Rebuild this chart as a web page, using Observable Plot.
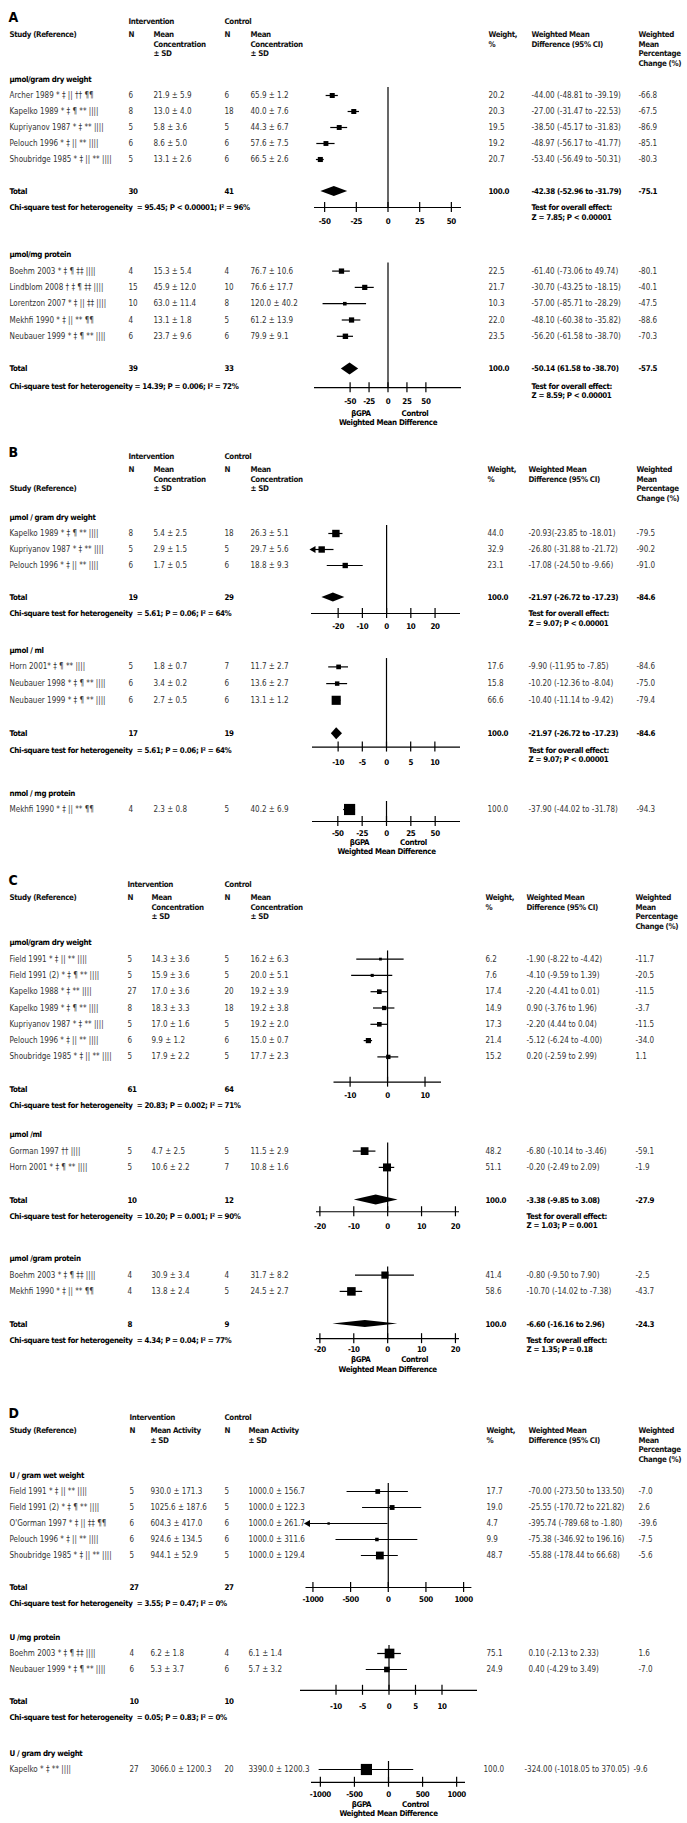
<!DOCTYPE html>
<html>
<head>
<meta charset="utf-8">
<script src="https://cdn.jsdelivr.net/npm/d3@7"></script>
<script src="https://cdn.jsdelivr.net/npm/@observablehq/plot@0.6"></script>
<style>
  body { margin: 0; background: #fff; }
  #chart { position: relative; width: 687px; height: 1823px; overflow: hidden; }
  #chart svg { position: absolute; left: 0; }
  #chart svg g[font-weight="bold"] text { letter-spacing: -0.35px; }
</style>
</head>
<body>
<div id="chart"></div>
<script>
// ---------------- DATA ----------------
// row: [study, N int, mean±SD int, N ctl, mean±SD ctl, weight, WMD, CI low, CI high, CI text, % change]
const A1_label = "μmol/gram dry weight";
const A1_rows = [
  ["Archer 1989 * ‡ || †† ¶¶", 6, "21.9 ± 5.9", 6, "65.9 ± 1.2", 20.2, -44.00, -48.81, -39.19, "-44.00 (-48.81 to -39.19)", "-66.8"],
  ["Kapelko 1989 * ‡ ¶ ** ||||", 8, "13.0 ± 4.0", 18, "40.0 ± 7.6", 20.3, -27.00, -31.47, -22.53, "-27.00 (-31.47 to -22.53)", "-67.5"],
  ["Kupriyanov 1987 * ‡ ** ||||", 5, "5.8 ± 3.6", 5, "44.3 ± 6.7", 19.5, -38.50, -45.17, -31.83, "-38.50 (-45.17 to -31.83)", "-86.9"],
  ["Pelouch 1996 * ‡ || ** ||||", 6, "8.6 ± 5.0", 6, "57.6 ± 7.5", 19.2, -48.97, -56.17, -41.77, "-48.97 (-56.17 to -41.77)", "-85.1"],
  ["Shoubridge 1985 * ‡ || ** ||||", 5, "13.1 ± 2.6", 6, "66.5 ± 2.6", 20.7, -53.40, -56.49, -50.31, "-53.40 (-56.49 to -50.31)", "-80.3"]
];
const A1_total = [30, 41, "100.0", -42.38, -52.96, -31.79, "-42.38 (-52.96 to -31.79)", "-75.1"];
const A1_chi = "Chi-square test for heterogeneity  = 95.45; P < 0.00001; I² = 96%";
const A1_z = "Z = 7.85; P < 0.00001";

const A2_label = "μmol/mg protein";
const A2_rows = [
  ["Boehm 2003 * ‡ ¶ ‡‡ ||||", 4, "15.3 ± 5.4", 4, "76.7 ± 10.6", 22.5, -61.40, -73.06, -49.74, "-61.40 (-73.06 to 49.74)", "-80.1"],
  ["Lindblom 2008 † ‡ ¶ ‡‡ ||||", 15, "45.9 ± 12.0", 10, "76.6 ± 17.7", 21.7, -30.70, -43.25, -18.15, "-30.70 (-43.25 to -18.15)", "-40.1"],
  ["Lorentzon 2007 * ‡ || ‡‡ ||||", 10, "63.0 ± 11.4", 8, "120.0 ± 40.2", 10.3, -57.00, -85.71, -28.29, "-57.00 (-85.71 to -28.29)", "-47.5"],
  ["Mekhfi 1990 * ‡ || ** ¶¶", 4, "13.1 ± 1.8", 5, "61.2 ± 13.9", 22.0, -48.10, -60.38, -35.82, "-48.10 (-60.38 to -35.82)", "-88.6"],
  ["Neubauer 1999 * ‡ ¶ ** ||||", 6, "23.7 ± 9.6", 6, "79.9 ± 9.1", 23.5, -56.20, -66.90, -45.50, "-56.20 (-61.58 to -38.70)", "-70.3"]
];
const A2_total = [39, 33, "100.0", -50.14, -61.58, -38.70, "-50.14 (61.58 to -38.70)", "-57.5"];
const A2_chi = "Chi-square test for heterogeneity = 14.39; P = 0.006; I² = 72%";
const A2_z = "Z = 8.59; P < 0.00001";

const B1_label = "μmol / gram dry weight";
const B1_rows = [
  ["Kapelko 1989 * ‡ ¶ ** ||||", 8, "5.4 ± 2.5", 18, "26.3 ± 5.1", 44.0, -20.93, -23.85, -18.01, "-20.93(-23.85 to -18.01)", "-79.5"],
  ["Kupriyanov 1987 * ‡ ** ||||", 5, "2.9 ± 1.5", 5, "29.7 ± 5.6", 32.9, -26.80, -31.88, -21.72, "-26.80 (-31.88 to -21.72)", "-90.2"],
  ["Pelouch 1996 * ‡ || ** ||||", 6, "1.7 ± 0.5", 6, "18.8 ± 9.3", 23.1, -17.08, -24.50, -9.66, "-17.08 (-24.50 to -9.66)", "-91.0"]
];
const B1_total = [19, 29, "100.0", -21.97, -26.72, -17.23, "-21.97 (-26.72 to -17.23)", "-84.6"];
const B1_chi = "Chi-square test for heterogeneity  = 5.61; P = 0.06; I² = 64%";
const B1_z = "Z = 9.07; P < 0.00001";

const B2_label = "μmol / ml";
const B2_rows = [
  ["Horn 2001* ‡ ¶ ** ||||", 5, "1.8 ± 0.7", 7, "11.7 ± 2.7", 17.6, -9.90, -11.95, -7.85, "-9.90 (-11.95 to -7.85)", "-84.6"],
  ["Neubauer 1998 * ‡ ¶ ** ||||", 6, "3.4 ± 0.2", 6, "13.6 ± 2.7", 15.8, -10.20, -12.36, -8.04, "-10.20 (-12.36 to -8.04)", "-75.0"],
  ["Neubauer 1999 * ‡ ¶ ** ||||", 6, "2.7 ± 0.5", 6, "13.1 ± 1.2", 66.6, -10.40, -11.14, -9.42, "-10.40 (-11.14 to -9.42)", "-79.4"]
];
const B2_total = [17, 19, "100.0", -10.3, -11.4, -9.1, "-21.97 (-26.72 to -17.23)", "-84.6"];
const B2_chi = "Chi-square test for heterogeneity  = 5.61; P = 0.06; I² = 64%";
const B2_z = "Z = 9.07; P < 0.00001";

const B3_label = "nmol / mg protein";
const B3_rows = [
  ["Mekhfi 1990 * ‡ || ** ¶¶", 4, "2.3 ± 0.8", 5, "40.2 ± 6.9", 100.0, -37.90, -44.02, -31.78, "-37.90 (-44.02 to -31.78)", "-94.3"]
];

const C1_label = "μmol/gram dry weight";
const C1_rows = [
  ["Field 1991 * ‡ || ** ||||", 5, "14.3 ± 3.6", 5, "16.2 ± 6.3", 6.2, -1.90, -8.22, 4.42, "-1.90 (-8.22 to -4.42)", "-11.7"],
  ["Field 1991 (2) * ‡ ¶ ** ||||", 5, "15.9 ± 3.6", 5, "20.0 ± 5.1", 7.6, -4.10, -9.59, 1.39, "-4.10 (-9.59 to 1.39)", "-20.5"],
  ["Kapelko 1988 * ‡ ** ||||", 27, "17.0 ± 3.6", 20, "19.2 ± 3.9", 17.4, -2.20, -4.41, 0.01, "-2.20 (-4.41 to 0.01)", "-11.5"],
  ["Kapelko 1989 * ‡ ¶ ** ||||", 8, "18.3 ± 3.3", 18, "19.2 ± 3.8", 14.9, -0.90, -3.76, 1.96, "0.90 (-3.76 to 1.96)", "-3.7"],
  ["Kupriyanov 1987 * ‡ ** ||||", 5, "17.0 ± 1.6", 5, "19.2 ± 2.0", 17.3, -2.20, -4.44, 0.04, "-2.20 (4.44 to 0.04)", "-11.5"],
  ["Pelouch 1996 * ‡ || ** ||||", 6, "9.9 ± 1.2", 6, "15.0 ± 0.7", 21.4, -5.12, -6.24, -4.00, "-5.12 (-6.24 to -4.00)", "-34.0"],
  ["Shoubridge 1985 * ‡ || ** ||||", 5, "17.9 ± 2.2", 5, "17.7 ± 2.3", 15.2, 0.20, -2.59, 2.99, "0.20 (-2.59 to 2.99)", "1.1"]
];
const C1_total = [61, 64];
const C1_chi = "Chi-square test for heterogeneity  = 20.83; P = 0.002; I² = 71%";

const C2_label = "μmol /ml";
const C2_rows = [
  ["Gorman 1997 †† ||||", 5, "4.7 ± 2.5", 5, "11.5 ± 2.9", 48.2, -6.80, -10.14, -3.46, "-6.80 (-10.14 to -3.46)", "-59.1"],
  ["Horn 2001 * ‡ ¶ ** ||||", 5, "10.6 ± 2.2", 7, "10.8 ± 1.6", 51.1, -0.20, -2.49, 2.09, "-0.20 (-2.49 to 2.09)", "-1.9"]
];
const C2_total = [10, 12, "100.0", -3.38, -9.85, 3.08, "-3.38 (-9.85 to 3.08)", "-27.9"];
const C2_chi = "Chi-square test for heterogeneity  = 10.20; P = 0.001; I² = 90%";
const C2_z = "Z = 1.03; P = 0.001";

const C3_label = "μmol /gram protein";
const C3_rows = [
  ["Boehm 2003 * ‡ ¶ ‡‡ ||||", 4, "30.9 ± 3.4", 4, "31.7 ± 8.2", 41.4, -0.80, -9.50, 7.90, "-0.80 (-9.50 to 7.90)", "-2.5"],
  ["Mekhfi 1990 * ‡ || ** ¶¶", 4, "13.8 ± 2.4", 5, "24.5 ± 2.7", 58.6, -10.70, -14.02, -7.38, "-10.70 (-14.02 to -7.38)", "-43.7"]
];
const C3_total = [8, 9, "100.0", -6.60, -16.16, 2.96, "-6.60 (-16.16 to 2.96)", "-24.3"];
const C3_chi = "Chi-square test for heterogeneity  = 4.34; P = 0.04; I² = 77%";
const C3_z = "Z = 1.35; P = 0.18";

const D1_label = "U / gram wet weight";
const D1_rows = [
  ["Field 1991 * ‡ || ** ||||", 5, "930.0 ± 171.3", 5, "1000.0 ± 156.7", 17.7, -70.00, -273.50, 133.50, "-70.00 (-273.50 to 133.50)", "-7.0"],
  ["Field 1991 (2) * ‡ ¶ ** ||||", 5, "1025.6 ± 187.6", 5, "1000.0 ± 122.3", 19.0, 25.55, -170.72, 221.82, "-25.55 (-170.72 to 221.82)", "2.6"],
  ["O'Gorman 1997 * ‡ || ‡‡ ¶¶", 6, "604.3 ± 417.0", 6, "1000.0 ± 261.7", 4.7, -395.74, -789.68, -1.80, "-395.74 (-789.68 to -1.80)", "-39.6"],
  ["Pelouch 1996 * ‡ || ** ||||", 6, "924.6 ± 134.5", 6, "1000.0 ± 311.6", 9.9, -75.38, -346.92, 196.16, "-75.38 (-346.92 to 196.16)", "-7.5"],
  ["Shoubridge 1985 * ‡ || ** ||||", 5, "944.1 ± 52.9", 5, "1000.0 ± 129.4", 48.7, -55.88, -178.44, 66.68, "-55.88 (-178.44 to 66.68)", "-5.6"]
];
const D1_total = [27, 27];
const D1_chi = "Chi-square test for heterogeneity  = 3.55; P = 0.47; I² = 0%";
const D1_tickValues = [-500, -250, 0, 250, 500];
const D1_tickLabels = ["-1000", "-500", "0", "500", "1000"];

const D2_label = "U /mg protein";
const D2_rows = [
  ["Boehm 2003 * ‡ ¶ ‡‡ ||||", 4, "6.2 ± 1.8", 4, "6.1 ± 1.4", 75.1, 0.10, -2.13, 2.33, "0.10 (-2.13 to 2.33)", "1.6"],
  ["Neubauer 1999 * ‡ ¶ ** ||||", 6, "5.3 ± 3.7", 6, "5.7 ± 3.2", 24.9, -0.40, -4.29, 3.49, "0.40 (-4.29 to 3.49)", "-7.0"]
];
const D2_total = [10, 10];
const D2_chi = "Chi-square test for heterogeneity  = 0.05; P = 0.83; I² = 0%";

const D3_label = "U / gram dry weight";
const D3_rows = [
  ["Kapelko * ‡ ** ||||", 27, "3066.0 ± 1200.3", 20, "3390.0 ± 1200.3", 100.0, -324.00, -1018.05, 370.05, "-324.00 (-1018.05 to 370.05)", "-9.6"]
];

const ticks50 = [-50, -25, 0, 25, 50];
const ticks20 = [-20, -10, 0, 10, 20];
const ticks10 = [-10, -5, 0, 5, 10];
const ticks10b = [-10, 0, 10];
const ticks1000 = [-1000, -500, 0, 500, 1000];

// header cell texts
const headConc = ["Mean", "Concentration", "± SD"];
const headAct = ["Mean Activity", "± SD"];
const headWeight = ["Weight,", "%"];
const headWMD = ["Weighted Mean", "Difference (95% CI)"];
const headPct = ["Weighted", "Mean", "Percentage", "Change (%)"];

// ---------------- LAYOUT ----------------
const FONT = '"Liberation Sans Narrow","Arial Narrow","DejaVu Sans Condensed","Liberation Sans",Arial,sans-serif';
const FS = 8;     // regular text
const FSB = 7.9;  // bold text
const W = 687;
const chart = document.getElementById("chart");
const styleBase = {fontFamily: FONT, fontSize: FS + "px", background: "transparent", overflow: "visible"};
const bold = {fontWeight: "bold", fontSize: FSB, fill: "#000"};

const colsA = {study: 9, nI: 128, mI: 153, nC: 224, mC: 250, w: 488, ci: 531, pct: 638};
const colsB = {study: 9, nI: 128, mI: 153, nC: 224, mC: 250, w: 487, ci: 528, pct: 636};
const colsC = {study: 9, nI: 127, mI: 151, nC: 224, mC: 250, w: 485, ci: 526, pct: 635};
const colsD = {study: 9, nI: 129, mI: 150, nC: 224, mC: 248, w: 486, ci: 528, pct: 638};
const colsD3 = {...colsD, w: 483, ci: 524, pct: 633};
const colKeys = ["study", "nI", "mI", "nC", "mC", "w", "ci", "pct"];
const SHIFT = -8; // horizontal shift of forest area

function place(svg, top) {
  svg.style.top = top + "px";
  chart.appendChild(svg);
}

function headerPlot(letter, cols, studyLine, meanCell, line1Y) {
  const cells = [
    ["study", studyLine, ["Study (Reference)"]],
    ["nI", 0, ["N"]], ["mI", 0, meanCell], ["nC", 0, ["N"]], ["mC", 0, meanCell],
    ["w", 0, headWeight], ["ci", 0, headWMD], ["pct", 0, headPct]
  ];
  const lines = [];
  cells.forEach(([key, start, texts]) => texts.forEach((t, j) => lines.push({key, line: start + j, text: t})));
  const top = line1Y - 30;
  const marks = [
    Plot.text([letter], {frameAnchor: "top-left", dx: 8, dy: 8, fontSize: 14, fontWeight: "bold", textAnchor: "start", fill: "#000"}),
    Plot.text(["Intervention"], {frameAnchor: "top-left", dx: cols.nI, dy: 14, textAnchor: "start", ...bold, fill: "#111"}),
    Plot.text(["Control"], {frameAnchor: "top-left", dx: cols.nC, dy: 14, textAnchor: "start", ...bold, fill: "#111"}),
    ...colKeys.map(k => Plot.text(lines.filter(l => l.key === k), {
      frameAnchor: "left", dx: cols[k], y: "line", text: "text", textAnchor: "start", ...bold, fill: "#111"
    }))
  ];
  const svg = Plot.plot({
    width: W, height: 72, margin: 0,
    y: {domain: [0, 1], range: [30, 39.5], axis: null},
    style: styleBase,
    marks
  });
  place(svg, top);
}

function subgroupPlot(g) {
  const rows = g.rows.map((r, i) => ({
    row: i + 1, study: r[0], nI: String(r[1]), mI: r[2], nC: String(r[3]), mC: r[4],
    w: r[5].toFixed(1), wt: r[5], mid: r[6], lo: r[7], hi: r[8], ci: r[9], pct: r[10]
  }));
  const [d0, d1] = g.domain;
  const px = 1 / g.rowH;
  const footer = g.footer;
  const bottomRow = Math.max((g.chiRow ?? 0) + 1.3, g.axisRow + (footer ? 40 : 22) * px);
  const height = Math.round((bottomRow + 1) * g.rowH);
  const marks = [];

  // subgroup label
  marks.push(Plot.text([g.label], {y: () => 0, frameAnchor: "left", dx: 9, textAnchor: "start", ...bold}));
  // study rows text
  colKeys.forEach(k => marks.push(Plot.text(rows, {y: "row", text: k, frameAnchor: "left", dx: g.cols[k], textAnchor: "start", fill: "#333"})));

  // total row
  if (g.total) {
    const t = g.total;
    const tot = {row: g.totalRow, study: "Total", nI: String(t[0]), nC: String(t[1]), w: t[2], ci: t[6], pct: t[7]};
    colKeys.forEach(k => {
      if (tot[k] != null) marks.push(Plot.text([tot], {y: "row", text: k, frameAnchor: "left", dx: g.cols[k], textAnchor: "start", ...bold}));
    });
    if (t[3] != null) {
      const r = g.totalRow, h = g.diamondH * px;
      const pts = [
        {x: t[4], y1: r, y2: r},
        {x: t[3], y1: r - h, y2: r + h},
        {x: t[5], y1: r, y2: r}
      ];
      marks.push(Plot.areaY(pts, {x: "x", y1: "y1", y2: "y2", fill: "#000"}));
    }
  }
  // chi-square
  if (g.chi) marks.push(Plot.text([g.chi], {y: () => g.chiRow, frameAnchor: "left", dx: 9, textAnchor: "start", ...bold}));
  // test for overall effect
  if (g.z) {
    const tl = ["Test for overall effect:", g.z];
    marks.push(Plot.text(tl, {y: (d, i) => g.chiRow + i * 9.5 * px, frameAnchor: "left", dx: g.cols.ci, textAnchor: "start", ...bold}));
  }

  // zero line
  marks.push(Plot.ruleX([0], {x: d => d, y1: () => 0.5, y2: () => g.axisRow, stroke: "#000", strokeWidth: 1.2}));
  // axis line, ticks, labels
  marks.push(Plot.ruleY([g.axisRow], {y: d => d, x1: () => d0, x2: () => d1, stroke: "#000", strokeWidth: 1.2}));
  marks.push(Plot.ruleX(g.ticks, {x: d => d, y1: () => g.axisRow - 5 * px, y2: () => g.axisRow + 5 * px, stroke: "#000", strokeWidth: 1.2}));
  marks.push(Plot.text(g.ticks, {x: d => d, y: () => g.axisRow, dy: g.tickDy, text: (d, i) => g.tickLabels ? g.tickLabels[i] : String(d), ...bold}));

  // CI whiskers
  marks.push(Plot.ruleY(rows, {y: "row", x1: d => Math.max(d.lo, d0), x2: d => Math.min(d.hi, d1), stroke: "#000", strokeWidth: 1.2}));
  // arrowheads for clipped CIs
  const clipped = rows.filter(d => d.lo < d0);
  if (clipped.length) marks.push(Plot.dot(clipped, {x: () => d0, y: "row", symbol: "triangle", rotate: -90, r: 2.6, dx: 2, fill: "#000", stroke: "none"}));
  // squares
  marks.push(Plot.dot(rows, {x: "mid", y: "row", r: "wt", symbol: "square", fill: "#000", stroke: "none"}));

  // footer
  if (footer) {
    marks.push(Plot.text(["βGPA"], {x: () => 0, y: () => g.axisRow, dx: -27, dy: footer[0], ...bold}));
    marks.push(Plot.text(["Control"], {x: () => 0, y: () => g.axisRow, dx: 27, dy: footer[0], ...bold}));
    marks.push(Plot.text(["Weighted Mean Difference"], {x: () => 0, y: () => g.axisRow, dy: footer[1], ...bold}));
  }

  const svg = Plot.plot({
    width: W, height, margin: 0,
    x: {domain: g.domain, range: g.range.map(v => v + SHIFT), axis: null},
    y: {domain: [-1, bottomRow], range: [0, (bottomRow + 1) * g.rowH], axis: null},
    r: {type: "sqrt", domain: [0, 100], range: [0, 6.3]},
    style: styleBase,
    marks
  });
  place(svg, g.y - g.rowH);
}

// ---------------- PANEL A ----------------
headerPlot("A", colsA, 0, headConc, 34);
subgroupPlot({y: 79, rowH: 16, cols: colsA, label: A1_label, rows: A1_rows, total: A1_total, totalRow: 7, chi: A1_chi, chiRow: 8, z: A1_z,
  axisRow: 8, domain: [-58, 58], range: [322, 469], ticks: ticks50, tickDy: 14, diamondH: 5});
subgroupPlot({y: 254, rowH: 16.3, cols: colsA, label: A2_label, rows: A2_rows, total: A2_total, totalRow: 7, chi: A2_chi, chiRow: 8.05, z: A2_z,
  axisRow: 8.15, domain: [-97, 97], range: [322, 469], ticks: ticks50, tickDy: 14, diamondH: 6, footer: [26, 35]});

// ---------------- PANEL B ----------------
headerPlot("B", colsB, 2, headConc, 469);
subgroupPlot({y: 517, rowH: 16, cols: colsB, label: B1_label, rows: B1_rows, total: B1_total, totalRow: 5, chi: B1_chi, chiRow: 6, z: B1_z,
  axisRow: 6, domain: [-31, 30.5], range: [319, 468], ticks: ticks20, tickDy: 13, diamondH: 4.5});
subgroupPlot({y: 650, rowH: 16.7, cols: colsB, label: B2_label, rows: B2_rows, total: B2_total, totalRow: 5, chi: B2_chi, chiRow: 6, z: B2_z,
  axisRow: 5.8, domain: [-15.3, 15.3], range: [320, 468], ticks: ticks10, tickDy: 15, diamondH: 6});
subgroupPlot({y: 793, rowH: 16, cols: colsB, label: B3_label, rows: B3_rows,
  axisRow: 1.75, domain: [-76, 76], range: [320, 468], ticks: ticks50, tickDy: 12, footer: [21, 30]});

// ---------------- PANEL C ----------------
headerPlot("C", colsC, 0, headConc, 897);
subgroupPlot({y: 942, rowH: 16.3, cols: colsC, label: C1_label, rows: C1_rows, total: C1_total, totalRow: 9, chi: C1_chi, chiRow: 10,
  axisRow: 8.55, domain: [-14.3, 14.4], range: [341.5, 449], ticks: ticks10b, tickDy: 13});
subgroupPlot({y: 1134, rowH: 16.3, cols: colsC, label: C2_label, rows: C2_rows, total: C2_total, totalRow: 4, chi: C2_chi, chiRow: 5, z: C2_z,
  axisRow: 4.72, domain: [-21, 21.2], range: [324, 467], ticks: ticks20, tickDy: 15, diamondH: 5});
subgroupPlot({y: 1258, rowH: 16.3, cols: colsC, label: C3_label, rows: C3_rows, total: C3_total, totalRow: 4, chi: C3_chi, chiRow: 5, z: C3_z,
  axisRow: 4.9, domain: [-21, 21.2], range: [324, 467], ticks: ticks20, tickDy: 11, diamondH: 3.5, footer: [21, 31]});

// ---------------- PANEL D ----------------
headerPlot("D", colsD, 0, headAct, 1430);
subgroupPlot({y: 1475, rowH: 16, cols: colsD, label: D1_label, rows: D1_rows, total: D1_total, totalRow: 7, chi: D1_chi, chiRow: 8,
  axisRow: 7, domain: [-546, 555], range: [313.5, 479.4], ticks: D1_tickValues, tickLabels: D1_tickLabels, tickDy: 12});
subgroupPlot({y: 1637, rowH: 16, cols: colsD, label: D2_label, rows: D2_rows, total: D2_total, totalRow: 4, chi: D2_chi, chiRow: 5,
  axisRow: 3.3, domain: [-16.7, 16.7], range: [308, 485], ticks: ticks10, tickDy: 16});
subgroupPlot({y: 1753, rowH: 16, cols: colsD3, label: D3_label, rows: D3_rows,
  axisRow: 1.8, domain: [-1130, 1130], range: [319, 473], ticks: ticks1000, tickDy: 12, footer: [22, 31]});
</script>
</body>
</html>
